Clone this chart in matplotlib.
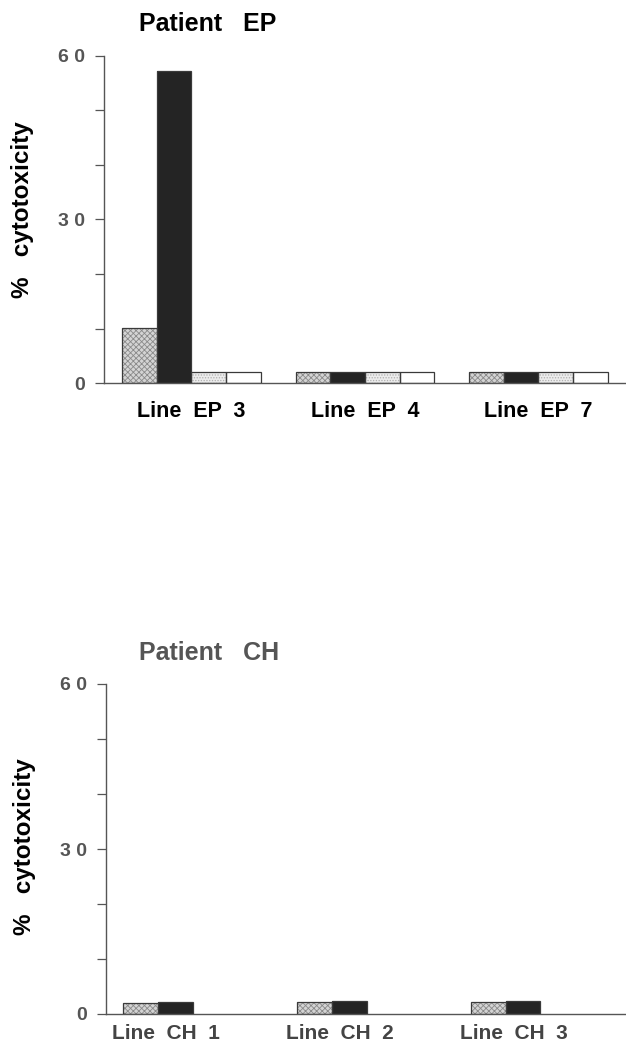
import numpy as np
import matplotlib
matplotlib.use("Agg")
import matplotlib.pyplot as plt

plt.rcParams['font.family'] = ['Liberation Sans', 'DejaVu Sans']
plt.rcParams['hatch.linewidth'] = 0.6

# data (% cytotoxicity)
ep_lines = ['Line  EP  3', 'Line  EP  4', 'Line  EP  7']
ep_vals = [
    [10.1, 2.0, 2.0],   # dotted grey
    [57.2, 2.0, 2.1],   # black
    [2.0, 2.0, 2.0],    # light dotted
    [2.0, 2.0, 2.1],    # white
]
ch_lines = ['Line  CH  1', 'Line  CH  2', 'Line  CH  3']
ch_vals = [
    [2.0, 2.2, 2.2],    # dotted grey
    [2.1, 2.3, 2.4],    # black
]
yticks = [0, 10, 20, 30, 40, 50, 60]
yticklabels = ['0', '', '', '3 0', '', '', '6 0']

W, H = 626, 1043
fig = plt.figure(figsize=(W / 100, H / 100), dpi=100)

def px_axes(x0, y_top, x1, y_bot):
    return fig.add_axes([x0 / W, 1 - y_bot / H, (x1 - x0) / W, (y_bot - y_top) / H])

styles = [
    dict(facecolor='#d4d4d4', hatch='xxxxxx', hc='#8a8a8a'),
    dict(facecolor='#242424', hatch=None, hc='#242424'),
    dict(facecolor='#ececec', hatch='......', hc='#b0b0b0'),
    dict(facecolor='white', hatch=None, hc='white'),
]

def draw_bars(ax, vals):
    x = np.arange(3)
    for k, v in enumerate(vals):
        st = styles[k]
        pos = x - 0.3 + 0.2 * k
        ax.bar(pos, v, width=0.2, color=st['facecolor'], hatch=st['hatch'],
               edgecolor=st['hc'], linewidth=0, zorder=2)
        ax.bar(pos, v, width=0.2, facecolor='none', edgecolor='#3a3a3a',
               linewidth=0.9, zorder=3)

def style_axes(ax, xlim):
    ax.set_xlim(*xlim)
    ax.set_ylim(0, 60)
    for s in ['top', 'right']:
        ax.spines[s].set_visible(False)
    for s in ['left', 'bottom']:
        ax.spines[s].set_color('#555555')
        ax.spines[s].set_linewidth(1.0)
    ax.set_yticks(yticks)
    ax.set_yticklabels(yticklabels, fontsize=14, fontweight='bold', color='#555555')
    ax.tick_params(axis='y', length=6.5, width=0.9, color='#555555', pad=7.5)
    ax.set_xticks([])

# top panel: patient EP
ax1 = px_axes(104, 56, 626, 383)
draw_bars(ax1, ep_vals)
style_axes(ax1, (-0.504, 2.505))
for i, lab in enumerate(ep_lines):
    ax1.text(i, -5.3, lab, ha='center', va='center', fontsize=15.5,
             fontweight='bold', color='black')
fig.text(139 / W, 1 - 24 / H, 'Patient   EP', ha='left', va='center',
         fontsize=18, fontweight='bold', color='black')
fig.text(23 / W, 1 - 210 / H, '%   cytotoxicity', rotation=90, ha='center',
         va='center', fontsize=17.5, fontweight='bold', color='black')

# bottom panel: patient CH
ax2 = px_axes(106, 684, 626, 1014)
draw_bars(ax2, ch_vals)
style_axes(ax2, (-0.5, 2.492))
for i, lab in enumerate(ch_lines):
    ax2.text(i - 0.155, -3.5, lab, ha='center', va='center', fontsize=15,
             fontweight='bold', color='#444444')
fig.text(139 / W, 1 - 653 / H, 'Patient   CH', ha='left', va='center',
         fontsize=18, fontweight='bold', color='#555555')
fig.text(25 / W, 1 - 847 / H, '%   cytotoxicity', rotation=90, ha='center',
         va='center', fontsize=17.5, fontweight='bold', color='black')

fig.savefig('out.png', dpi=100)
